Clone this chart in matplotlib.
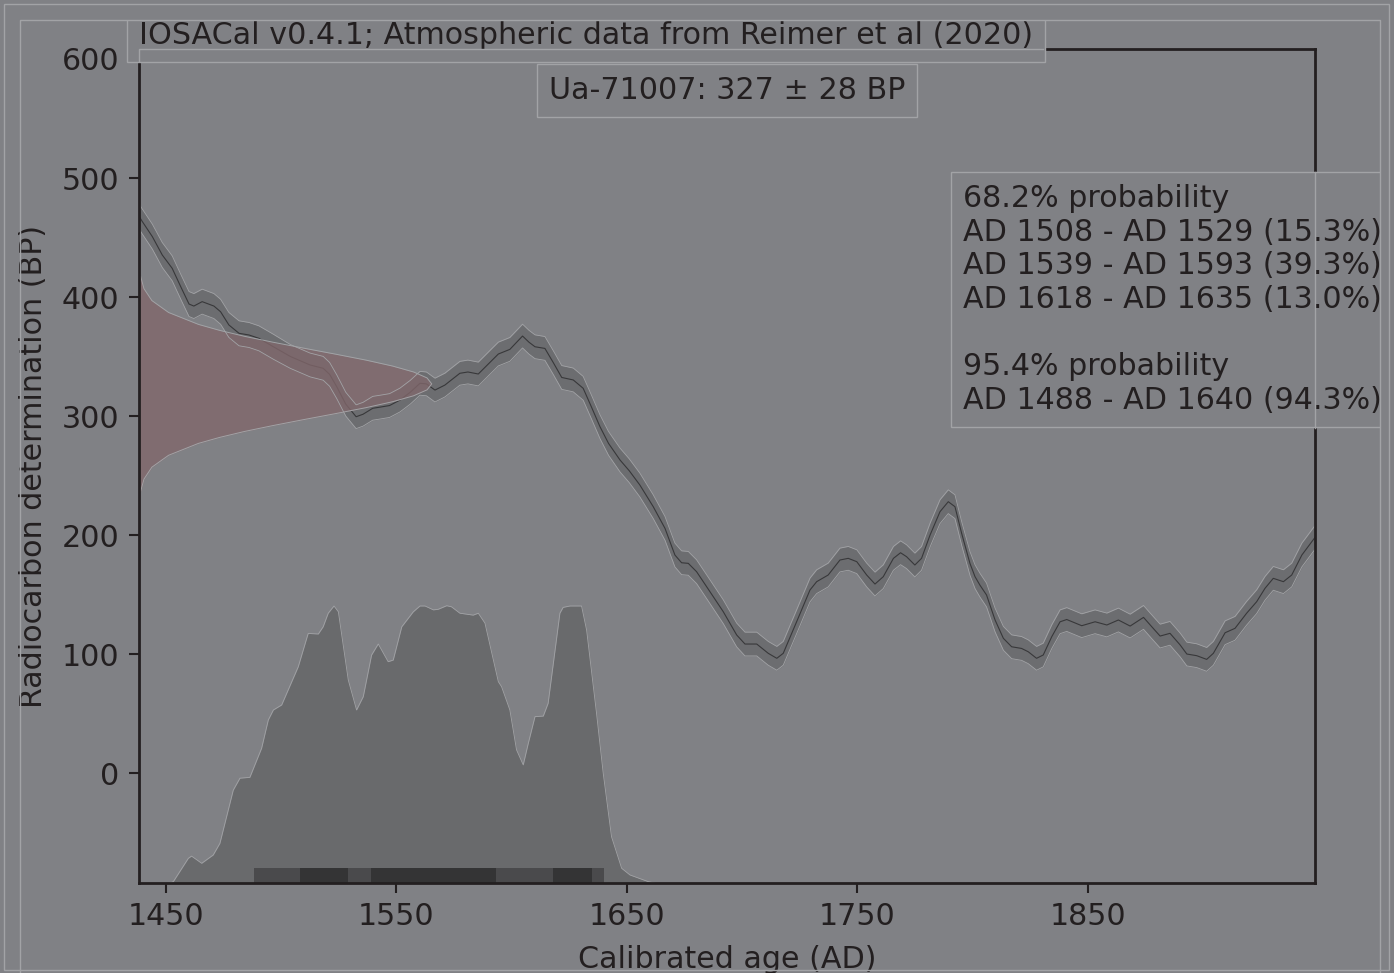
import matplotlib
matplotlib.use("Agg")
import matplotlib.pyplot as plt
from matplotlib.lines import Line2D
from matplotlib.patches import Rectangle
from matplotlib.transforms import Bbox, TransformedBbox
import numpy as np

# calibration curve: cal AD, BP
CURVE_AD = [1438.3, 1439.5, 1444.1, 1448.4, 1452.7, 1456.4, 1460.0, 1462.1, 1465.7,
            1470.8, 1473.7, 1477.3, 1481.7, 1486.0, 1490.3, 1496.6, 1504.0, 1512.5,
            1518.2, 1521.0, 1524.1, 1528.0, 1532.5, 1535.5, 1539.7, 1543.0, 1547.0,
            1551.5, 1556.0, 1560.2, 1563.0, 1566.7, 1571.0, 1577.5, 1581.0, 1585.5,
            1590.0, 1594.2, 1599.2, 1604.7, 1607.5, 1610.1, 1614.4, 1618.0, 1621.7,
            1626.7, 1631.0, 1634.5, 1638.3, 1642.0, 1647.0, 1651.0, 1655.6, 1661.4,
            1666.5, 1670.8, 1673.7, 1676.6, 1680.2, 1686.0, 1691.8, 1697.6, 1701.2,
            1706.3, 1711.3, 1715.0, 1717.8, 1723.6, 1729.4, 1732.3, 1737.3, 1742.4,
            1746.0, 1749.7, 1754.0, 1757.6, 1761.2, 1765.6, 1768.7, 1771.3, 1774.9,
            1777.8, 1781.5, 1785.8, 1789.4, 1792.3, 1795.2, 1798.8, 1801.0, 1803.1,
            1806.0, 1809.7, 1813.3, 1816.9, 1821.2, 1824.1, 1827.7, 1830.6, 1834.3,
            1837.9, 1840.8, 1847.3, 1853.1, 1858.2, 1863.2, 1868.3, 1874.1, 1877.7,
            1881.3, 1885.6, 1890.0, 1892.9, 1897.2, 1901.5, 1904.4, 1909.5, 1913.8,
            1918.8, 1923.2, 1926.8, 1930.4, 1934.8, 1938.4, 1942.8, 1948.5]
CURVE_BP = [468.0, 464.1, 450.7, 435.3, 424.1, 408.7, 394.1, 392.4, 396.1,
            392.4, 387.6, 376.5, 369.5, 368.1, 365.3, 358.2, 350.0, 342.9,
            340.1, 335.0, 324.6, 310.0, 299.4, 301.5, 306.5, 307.5, 308.8,
            313.4, 320.0, 327.5, 327.0, 321.8, 326.0, 335.9, 337.0, 335.3,
            344.0, 352.1, 356.0, 367.2, 362.0, 358.2, 356.8, 345.0, 332.4,
            330.3, 323.3, 308.0, 291.0, 277.0, 263.0, 254.0, 242.0, 223.8,
            205.6, 183.2, 176.7, 176.2, 169.2, 152.4, 135.5, 116.0, 108.4,
            108.4, 100.6, 96.4, 100.6, 127.1, 153.8, 160.8, 166.4, 179.0,
            180.4, 177.6, 166.4, 158.8, 165.0, 180.4, 185.1, 181.8, 174.8,
            180.4, 200.0, 219.6, 228.0, 223.8, 201.4, 176.2, 165.0, 158.0,
            149.6, 128.6, 113.2, 106.1, 104.7, 101.9, 96.4, 99.2, 114.6,
            127.1, 129.0, 123.8, 127.1, 124.4, 128.6, 123.5, 130.8, 122.9,
            115.1, 117.4, 107.6, 100.0, 98.6, 95.5, 100.6, 117.9, 121.6,
            134.2, 144.0, 155.2, 163.6, 160.8, 166.4, 183.2, 198.0]
# half-width of the curve band in BP (reads about 10 everywhere)
CURVE_ERR = [10.5] * 16 + [10.0] * (len(CURVE_AD) - 16)

# calibrated probability (relative height, max = 1)
DENS_AD = [1451.7, 1453.2, 1459.7, 1461.1, 1465.5, 1470.5, 1473.4, 1479.2, 1482.1,
           1486.4, 1491.5, 1494.4, 1496.6, 1500.2, 1507.4, 1511.7, 1516.1, 1518.2,
           1520.4, 1522.9, 1524.8, 1529.1, 1532.7, 1535.6, 1539.2, 1542.1, 1546.4,
           1548.6, 1552.3, 1557.3, 1560.2, 1562.4, 1566.0, 1568.1, 1571.8, 1573.9,
           1577.5, 1583.3, 1585.5, 1588.4, 1594.2, 1595.6, 1599.2, 1602.1, 1605.0,
           1607.2, 1610.1, 1613.7, 1615.8, 1620.9, 1622.3, 1625.3, 1630.3, 1632.5,
           1636.8, 1639.7, 1643.3, 1647.7, 1651.3, 1659.2, 1662.0]
DENS_H = [0.0, 0.005, 0.089, 0.097, 0.071, 0.101, 0.143, 0.335, 0.378,
          0.381, 0.486, 0.588, 0.624, 0.642, 0.780, 0.900, 0.898, 0.924,
          0.973, 0.999, 0.978, 0.732, 0.624, 0.672, 0.822, 0.862, 0.798,
          0.804, 0.924, 0.978, 0.999, 0.999, 0.985, 0.987, 1.000, 0.996,
          0.973, 0.966, 0.973, 0.937, 0.726, 0.708, 0.624, 0.480, 0.426,
          0.504, 0.600, 0.602, 0.648, 0.973, 0.994, 0.999, 0.999, 0.912,
          0.612, 0.396, 0.167, 0.053, 0.029, 0.005, 0.0]

# HPD intervals
HPD_95 = [(1488, 1640)]
HPD_68 = [(1508, 1529), (1539, 1593), (1618, 1635)]

# radiocarbon determination, drawn sideways on the y axis
BP_MEAN = 327
GAUSS_OFFSET = [-90, -80, -70, -60, -50, -45, -40, -35, -30, -25, -20, -15, -10, -5, 0,
                5, 10, 15, 20, 25, 30, 35, 40, 45, 50, 60, 70, 80, 90]
GAUSS_WIDTH = [0.006, 0.017, 0.044, 0.101, 0.203, 0.275, 0.360, 0.458, 0.563, 0.671,
               0.775, 0.866, 0.938, 0.984, 1.0, 0.984, 0.938, 0.866, 0.775, 0.671,
               0.563, 0.458, 0.360, 0.275, 0.203, 0.101, 0.044, 0.017, 0.006]

TITLE = "IOSACal v0.4.1; Atmospheric data from Reimer et al (2020)"
SAMPLE = "Ua-71007: 327 \u00b1 28 BP"
PROB_TEXT = ("68.2% probability\n"
             "AD 1508 - AD 1529 (15.3%)\n"
             "AD 1539 - AD 1593 (39.3%)\n"
             "AD 1618 - AD 1635 (13.0%)\n"
             "\n"
             "95.4% probability\n"
             "AD 1488 - AD 1640 (94.3%)")

XTICKS = [1450, 1550, 1650, 1750, 1850]
YTICKS = [0, 100, 200, 300, 400, 500, 600]
XLIM = (1438.3, 1948.5)
YLIM = (-92.4, 608.4)

BG = "#808185"
BAND = "#6c6d70"
EDGE = "#a2a3a6"
DENS = "#696a6c"
PINK = "#80676b"
H95 = "#4a4a4c"
H68 = "#343435"
INK = "#231f20"
FS = 21.7

W, H = 1394, 973
fig = plt.figure(figsize=(W / 100, H / 100), dpi=100, facecolor=BG)
ax = fig.add_axes([139 / W, 1 - 883 / H, (1315 - 139) / W, (883 - 49) / H], facecolor=BG)

ad = np.array(CURVE_AD)
bp = np.array(CURVE_BP)
err = np.array(CURVE_ERR)
ax.fill_between(ad, bp - err, bp + err, color=BAND, lw=0, zorder=1)
ax.plot(ad, bp, color="#38383a", lw=0.8, zorder=1.5)

# radiocarbon gaussian
g_bp = BP_MEAN + np.array(GAUSS_OFFSET)
g_x = XLIM[0] + 127.0 * np.array(GAUSS_WIDTH)
ax.fill_betweenx(g_bp, XLIM[0], g_x, color=PINK, alpha=0.8, lw=0, zorder=2)
ax.plot(g_x, g_bp, color=EDGE, lw=0.7, zorder=2.2)

ax.plot(ad, bp - err, color=EDGE, lw=0.6, zorder=2.1)
ax.plot(ad, bp + err, color=EDGE, lw=0.6, zorder=2.1)

# calibrated distribution
dens_scale = 233.0
dens_top = YLIM[0] + dens_scale * np.array(DENS_H)
ax.fill_between(DENS_AD, YLIM[0], dens_top, color=DENS, lw=0, zorder=1)
ax.plot(DENS_AD, dens_top, color=EDGE, lw=0.6, zorder=1.1)

bar_h = 12.6
for lo, hi in HPD_95:
    ax.fill_between([lo, hi], YLIM[0], YLIM[0] + bar_h, color=H95, lw=0, zorder=1.2)
for lo, hi in HPD_68:
    ax.fill_between([lo, hi], YLIM[0], YLIM[0] + bar_h, color=H68, lw=0, zorder=1.3)

ax.set_xlim(*XLIM)
ax.set_ylim(*YLIM)
ax.set_xticks(XTICKS)
ax.set_yticks(YTICKS)
ax.tick_params(colors=INK, labelcolor=INK, labelsize=FS, length=7, width=1.5, pad=7)
for s in ax.spines.values():
    s.set_color(INK)
    s.set_linewidth(2)
ax.set_xlabel("Calibrated age (AD)", fontsize=FS, color=INK, labelpad=10)
ax.set_ylabel("Radiocarbon determination (BP)", fontsize=FS, color=INK, labelpad=10)

# the original picture is clipped at an inner frame
clip = TransformedBbox(Bbox.from_extents(19.5 / W, -0.1, 1380 / W, 1 - 20 / H), fig.transFigure)
box = dict(boxstyle="square,pad=0.4", fc=BG, ec=EDGE, lw=1)
texts = [
    fig.text(139 / W, 1 - 43.5 / H, TITLE, ha="left", va="baseline", fontsize=FS,
             color=INK, bbox=box),
    fig.text(727 / W, 1 - 99 / H, SAMPLE, ha="center", va="baseline", fontsize=FS,
             color=INK, bbox=box),
    fig.text(963 / W, 1 - 184 / H, PROB_TEXT, ha="left", va="top", fontsize=FS,
             color=INK, bbox=box),
]
for t in texts:
    t.set_clip_on(True)
    t.set_clip_box(clip)

# spines seen through the text boxes
for xs, ys in [([139, 139, 1043], [61, 49, 49]), ([1315, 1315], [172, 428])]:
    fig.add_artist(Line2D([x / W for x in xs], [1 - y / H for y in ys],
                          color=EDGE, lw=1, transform=fig.transFigure, zorder=5))

# frames
fig.add_artist(Line2D([19.5 / W, 19.5 / W, 1380 / W, 1380 / W], [0, 1 - 20 / H, 1 - 20 / H, 0],
                      color=EDGE, lw=1, transform=fig.transFigure, zorder=5))
fig.add_artist(Rectangle((4 / W, 1 - 970 / H), 1385 / W, 966 / H, fill=False, ec=EDGE,
                         lw=1, transform=fig.transFigure, zorder=5))

fig.savefig("out.png", dpi=100, facecolor=BG)
